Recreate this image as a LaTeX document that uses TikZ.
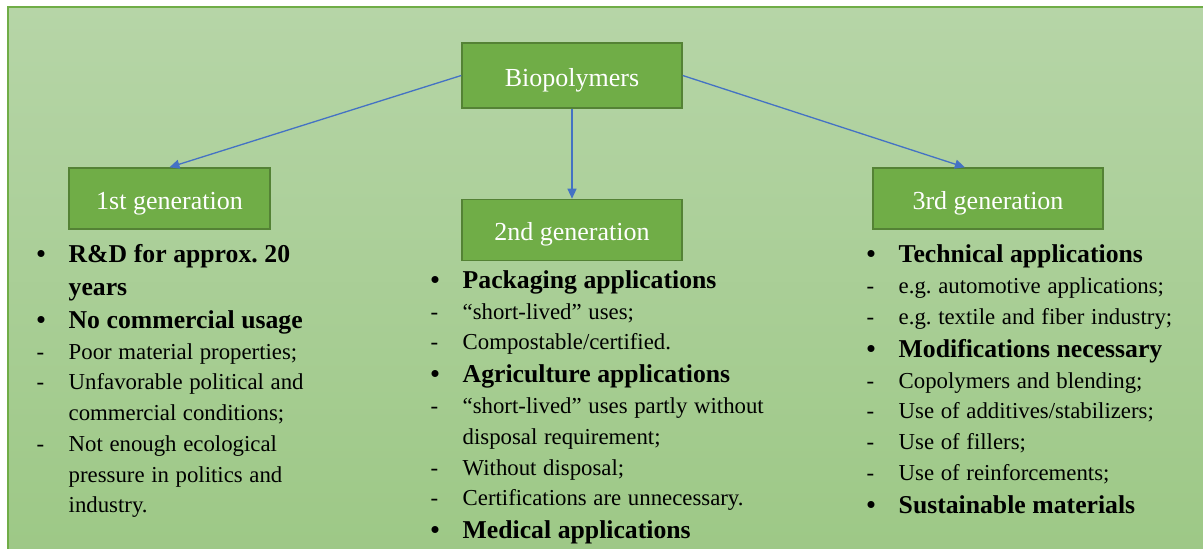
\documentclass[tikz,border=0pt]{standalone}
\usepackage{fontspec}
\setmainfont{Liberation Serif}
\usetikzlibrary{arrows.meta, positioning, calc}

\definecolor{boxgreen}{RGB}{112,173,71}
\definecolor{boxline}{RGB}{84,130,53}
\definecolor{bgtop}{RGB}{182,213,167}
\definecolor{bgbottom}{RGB}{157,200,134}
\definecolor{arrowblue}{RGB}{68,114,196}

% bold bullet line and plain dash line
\newcommand{\bitem}[1]{\fontsize{12.85bp}{16.6bp}\selectfont\bfseries\frenchspacing\hangindent=16bp\hangafter=1\noindent\makebox[16bp][l]{\textbullet}#1\par}
\newcommand{\ditem}[1]{\fontsize{11.4bp}{15.35bp}\selectfont\mdseries\frenchspacing\hangindent=16bp\hangafter=1\noindent\makebox[16bp][l]{-}#1\par}

\begin{document}
\begin{tikzpicture}[x=0.5bp, y=-0.5bp,
		genbox/.style={rectangle, draw=boxline, fill=boxgreen, line width=0.7bp, text=white, font=\fontsize{13bp}{15bp}\selectfont, text height=11bp, text depth=0pt, minimum height=30.5bp, inner sep=0pt},
		itemlist/.style={inner sep=0pt, text width=#1},
		link/.style={-{Triangle[length=5bp, width=4.5bp]}, draw=arrowblue, line width=0.65bp}
		]
		\useasboundingbox (0,0) rectangle (1203,549);
		\fill [top color=bgtop, bottom color=bgbottom] (8,7) rectangle (1210,556);
		\draw [boxgreen, line width=0.75bp] (1210,7) -- (8,7) -- (8,556);
		
		\node [genbox, minimum width=110bp, minimum height=32.5bp] (bio) at (572,75.5) {Biopolymers};
		\node [genbox, minimum width=110bp] (gen2) [below=45bp of bio] {2nd generation};
		\node [genbox, minimum width=100.5bp] (gen1) at (169.5,198.5) {1st generation};
		\node [genbox, minimum width=115bp] (gen3) at (988,198.5) {3rd generation};
		
		\draw [link] (bio.west) -- (gen1.north);
		\draw [link] (bio.south) -- (gen2.north);
		\draw [link] (bio.east) -- ($(gen3.north west)!0.4!(gen3.north east)$);
		
		\node [itemlist=160bp] (list1) [below right=7bp and -16bp of gen1.south west] {
			\bitem{R\&D for approx. 20\newline years}
			\bitem{No commercial usage}
			\ditem{Poor material properties;}
			\ditem{Unfavorable political and\newline commercial conditions;}
			\ditem{Not enough ecological\newline pressure in politics and\newline industry.}
		};
		\node [itemlist=175bp] (list2) [below right=4.5bp and -15.5bp of gen2.south west] {
			\bitem{Packaging applications}
			\ditem{“short-lived” uses;}
			\ditem{Compostable/certified.}
			\bitem{Agriculture applications}
			\ditem{“short-lived” uses partly without\newline disposal requirement;}
			\ditem{Without disposal;}
			\ditem{Certifications are unnecessary.}
			\bitem{Medical applications}
		};
		\node [itemlist=165bp] (list3) [below right=7.5bp and -3bp of gen3.south west] {
			\bitem{Technical applications}
			\ditem{e.g. automotive applications;}
			\ditem{e.g. textile and fiber industry;}
			\bitem{Modifications necessary}
			\ditem{Copolymers and blending;}
			\ditem{Use of additives/stabilizers;}
			\ditem{Use of fillers;}
			\ditem{Use of reinforcements;}
			\bitem{Sustainable materials}
		};
\end{tikzpicture}
\end{document}
